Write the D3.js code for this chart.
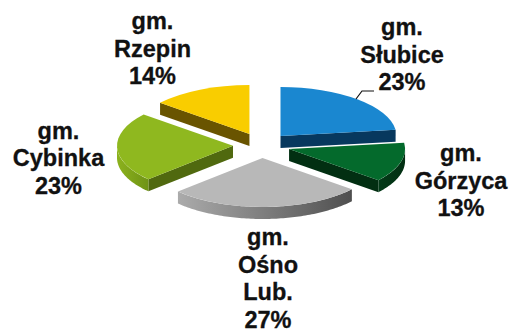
<!DOCTYPE html>
<html>
<head>
<meta charset="utf-8">
<script src="https://cdn.jsdelivr.net/npm/d3@7"></script>
<style>
  html, body { margin: 0; padding: 0; background: #fff; }
  svg { display: block; }
  text { font-family: "Liberation Sans", Arial, sans-serif; font-weight: bold; font-size: 23.5px; fill: #111; stroke: #111; stroke-width: 0.3px; }
</style>
</head>
<body>
<div id="chart"></div>
<script>
  "use strict";

  var names = ["gm. Słubice", "gm. Górzyca", "gm. Ośno Lub.", "gm. Cybinka", "gm. Rzepin"];
  var values = [23, 13, 27, 23, 14];
  var topColors = ["#1a87d0", "#046a2c", "#b8b8b8", "#8fb81f", "#f9cd00"];
  var wallColors = ["#07385e", "#022f12", "#5c5c5c", "#50690f", "#695400"];
  var rimLight = ["#1a87d0", "#033a18", "#ababab", "#8cb21d", "#f9cd00"];
  var rimDark = ["#07385e", "#022f12", "#4f4f4f", "#6f9316", "#695400"];
  var labelLines = [
    ["gm.", "Słubice", "23%"],
    ["gm.", "Górzyca", "13%"],
    ["gm.", "Ośno", "Lub.", "27%"],
    ["gm.", "Cybinka", "23%"],
    ["gm.", "Rzepin", "14%"]
  ];

  var width = 510, height = 329;
  var cx = 261.6, cy = 145.4;
  var radius = 116, tilt = 0.4224, depth = 12, explode = 28.6, explodeTilt = 0.44;
  var labelPos = [[402, 35], [461, 161], [268, 245], [58.5, 138.5], [152.5, 29]];
  var lineStep = 27.5;

  var svg = d3.select("#chart").append("svg")
    .attr("width", width)
    .attr("height", height);

  var pie = d3.pie().sort(null)(values);
  var arc = d3.arc().innerRadius(0).outerRadius(radius);

  var rimX = function(a) { return radius * Math.sin(a); };
  var rimY = function(a) { return -radius * tilt * Math.cos(a); };

  var defs = svg.append("defs");
  pie.forEach(function(d, i) {
    var grad = defs.append("linearGradient").attr("id", "rim" + i);
    grad.append("stop").attr("offset", "0%").attr("stop-color", rimLight[i]);
    grad.append("stop").attr("offset", "100%").attr("stop-color", rimDark[i]);
  });

  var rimArea = d3.area()
    .x(rimX)
    .y0(rimY)
    .y1(function(a) { return rimY(a) + depth; });

  pie.forEach(function(d, i) {
    var mid = (d.startAngle + d.endAngle) / 2;
    var g = svg.append("g")
      .attr("transform", `translate(${cx + explode * Math.sin(mid)}, ${cy - explode * explodeTilt * Math.cos(mid)})`);

    // flat radial walls, only the ones facing the viewer
    var cuts = [];
    if (Math.sin(d.endAngle) > 0) cuts.push(d.endAngle);
    if (Math.sin(d.startAngle) < 0) cuts.push(d.startAngle);
    cuts.forEach(function(a) {
      var wall = d3.path();
      wall.moveTo(0, 0);
      wall.lineTo(rimX(a), rimY(a));
      wall.lineTo(rimX(a), rimY(a) + depth);
      wall.lineTo(0, depth);
      wall.closePath();
      g.append("path").attr("d", wall.toString()).attr("fill", wallColors[i]);
    });

    // curved outer wall, front half of the circle only
    var from = Math.max(d.startAngle, Math.PI / 2);
    var to = Math.min(d.endAngle, 3 * Math.PI / 2);
    if (to > from) {
      var angles = d3.range(from, to, 0.02).concat([to]);
      g.append("path")
        .attr("d", rimArea(angles))
        .attr("fill", `url(#rim${i})`);
    }

    g.append("path")
      .attr("transform", `scale(1, ${tilt})`)
      .attr("d", arc(d))
      .attr("fill", topColors[i]);
  });

  // leader line for the Słubice label
  svg.append("path")
    .attr("d", d3.line()([[356, 99], [362, 91], [374, 91]]))
    .attr("fill", "none")
    .attr("stroke", "#111")
    .attr("stroke-width", 1.2);

  labelLines.forEach(function(lines, i) {
    var text = svg.append("text")
      .attr("text-anchor", "middle")
      .attr("aria-label", names[i]);
    lines.forEach(function(line, j) {
      text.append("tspan")
        .attr("x", labelPos[i][0])
        .attr("y", labelPos[i][1] + j * lineStep)
        .text(line);
    });
  });
</script>
</body>
</html>
